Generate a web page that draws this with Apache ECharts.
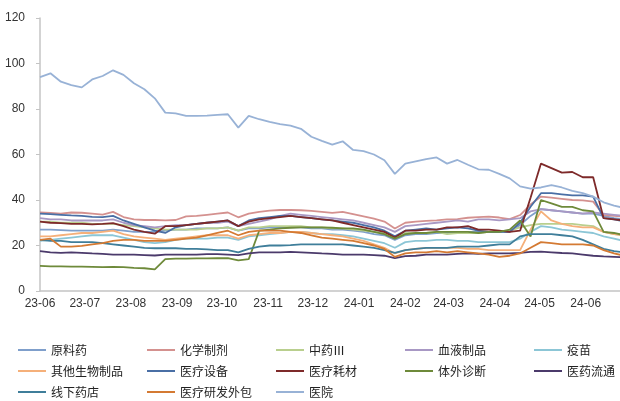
<!DOCTYPE html>
<html>
<head>
<meta charset="utf-8">
<script src="https://cdn.jsdelivr.net/npm/echarts@6/dist/echarts.min.js"></script>
<style>
  html, body { margin: 0; padding: 0; background: #fff; }
  #pe-chart { width: 620px; height: 401px; }
</style>
</head>
<body>
<div id="pe-chart"></div>
<script>
  // weekly dates
  const dates = [
    '2023-06-01', '2023-06-08', '2023-06-15', '2023-06-22', '2023-06-29', '2023-07-06', '2023-07-13', '2023-07-20',
    '2023-07-27', '2023-08-03', '2023-08-10', '2023-08-17', '2023-08-24', '2023-08-31', '2023-09-07', '2023-09-14',
    '2023-09-21', '2023-09-28', '2023-10-05', '2023-10-12', '2023-10-19', '2023-10-26', '2023-11-02', '2023-11-09',
    '2023-11-16', '2023-11-23', '2023-11-30', '2023-12-07', '2023-12-14', '2023-12-21', '2023-12-28', '2024-01-04',
    '2024-01-11', '2024-01-18', '2024-01-25', '2024-02-01', '2024-02-08', '2024-02-15', '2024-02-22', '2024-02-29',
    '2024-03-07', '2024-03-14', '2024-03-21', '2024-03-28', '2024-04-04', '2024-04-11', '2024-04-18', '2024-04-25',
    '2024-05-02', '2024-05-09', '2024-05-16', '2024-05-23', '2024-05-30', '2024-06-06', '2024-06-13', '2024-06-20',
    '2024-06-27'
  ];

  const yuanliaoyao = [27, 27, 26.8, 26.5, 26.5, 26.5, 26.5, 27, 26.5, 26, 26, 26, 26.5, 27, 27, 27.5, 27.5, 27.5, 28, 26.5,
    27.5, 27.5, 28, 28, 28, 28, 27.5, 27.5, 27, 27, 26.5, 26, 25, 24.5, 22.5, 24.5, 25, 25, 25.5, 25.5,
    26, 26, 26, 26, 26, 26, 29, 33, 36, 35.5, 35, 34.5, 34, 34, 33, 32, 31.5];
  const huaxuezhiji = [34.5, 34.3, 34, 34.5, 34.4, 34, 33.6, 34.8, 32.5, 31.5, 31.2, 31.2, 31, 31.2, 32.8, 33, 33.5, 34, 34.5, 32.4,
    34, 34.8, 35.3, 35.6, 35.6, 35.5, 35.2, 34.8, 34.3, 34.8, 33.8, 32.8, 31.8, 30.5, 27.5, 30, 30.5, 30.8, 31, 31.5,
    31.6, 32.2, 32.5, 32.7, 32.3, 31.6, 33.4, 38, 41.5, 41, 40.5, 40, 39.8, 39.3, 33.4, 33, 32.7];
  const zhongyao = [30.5, 30.5, 30, 30, 30, 29.5, 29.5, 29.5, 29, 28.5, 28, 27.5, 27, 27, 27, 27, 27.5, 27.5, 28, 26.5,
    28, 28, 28.5, 28.5, 28.5, 28.5, 28, 28, 27.5, 27.5, 27, 26.5, 26, 25.5, 24, 25.5, 25.5, 25.5, 26, 25,
    25.5, 25.5, 25.5, 26, 26, 26.5, 28, 29, 29.5, 29.5, 29.5, 29.5, 29, 28.5, 26, 25, 24.5];
  const xueye = [32, 31.5, 31.5, 31, 31, 31, 31, 31.5, 30, 29, 28.5, 28, 28.5, 29, 29, 29.5, 30, 30, 30.5, 28.5,
    29.5, 30.5, 31.5, 33, 34, 33.5, 33, 32.5, 32, 31.5, 31, 30, 29, 28, 26, 28.5, 29, 29.5, 30, 30.5,
    31, 30.5, 31.5, 31.5, 31, 31.5, 32, 35, 36, 35.5, 35, 34.5, 34, 34.5, 34, 33.5, 33];
  const yimiao = [22, 22.5, 23, 23.5, 24, 24.5, 24.5, 24.5, 23.5, 22.5, 21.5, 21, 21.5, 22.5, 23, 23, 23, 23.5, 23.5, 22.5,
    24, 24.5, 25, 25.5, 26, 26, 25.5, 25, 25, 24.5, 24, 23, 22, 21, 19, 21.5, 22, 22, 22.5, 22.5,
    22, 22, 21.5, 21.5, 21.5, 21.5, 23, 26, 28.5, 28, 27, 26.5, 26, 25.5, 24, 23, 22];
  const qitashengwu = [24, 24, 24.5, 25, 25.5, 25.5, 26, 26.5, 25, 24, 23.5, 23, 22.5, 23, 23.5, 24, 24.5, 24.5, 24.5, 23,
    24.5, 25, 25.5, 25.5, 26, 26, 25.5, 25, 24.5, 24, 23, 22, 20.5, 19, 16.5, 18, 18.5, 19, 19, 19,
    19, 18.5, 18.5, 18, 18, 18, 18, 27, 35, 31, 29.5, 28.5, 28, 28, 26, 25, 24.5];
  const yiliaoshebei = [34, 33.8, 33.5, 33.2, 33, 32.6, 32.5, 33, 31, 29.5, 28, 26.5, 25.5, 28, 29, 29.5, 30, 30.5, 31, 28.5,
    31, 32, 32.5, 33, 33, 32.5, 32, 31.5, 31, 30.5, 30, 29, 28, 26.5, 24, 26.5, 27, 27.5, 27, 27.5,
    28, 27.5, 26.5, 26, 26, 26, 30, 37, 43, 43, 42.5, 42, 42, 41.5, 32, 31.5, 30.5];
  const yiliaohaocai = [30.5, 30, 29.8, 29.5, 29.5, 29.3, 29.5, 29.8, 28.5, 27, 26, 25.2, 28.5, 28.5, 29, 29.5, 30, 30.5, 31, 28.5,
    30.5, 31.5, 32, 32.5, 33, 32.5, 32, 31.5, 31, 30, 29, 28, 27, 26, 23.5, 26.5, 26.5, 27, 27, 28,
    28, 28.5, 27, 27, 26.5, 26, 26.5, 41, 56, 54, 52, 52.3, 50, 50, 32, 31.5, 31];
  const tiwaizhenduan = [11, 10.8, 10.8, 10.7, 10.7, 10.6, 10.5, 10.6, 10.5, 10.2, 10, 9.5, 14, 14.2, 14.2, 14.3, 14.3, 14.4, 14.4, 13.5,
    14, 26.5, 27, 27.5, 27.8, 28, 28, 28, 27.8, 27.5, 27.5, 27, 26, 25, 23, 25, 25.5, 25.5, 26, 26,
    26, 26, 25.5, 26, 26, 27, 31, 24, 40, 38.5, 37, 37, 35.5, 35, 26, 25.5, 24.5];
  const yiyaoliutong = [17.5, 17, 16.8, 17, 16.8, 16.5, 16.3, 16, 16, 16, 15.8, 15.6, 16, 16, 16, 16, 16.2, 16.2, 16, 15.8,
    16.5, 17, 17, 17, 17.2, 17, 16.8, 16.5, 16.3, 16, 16, 16, 15.8, 15.5, 14.5, 15.3, 15.5, 16, 16, 16,
    16.3, 16.5, 16.3, 16.5, 16.5, 16.5, 16.8, 17.2, 17.3, 17, 16.7, 16.5, 16, 15.5, 15.2, 15, 14.8];
  const xianxiayaodian = [22.5, 22, 22, 21.5, 21.5, 21.5, 21, 20.5, 20, 19.5, 19, 18.8, 18.8, 18.8, 18.5, 18.5, 18.3, 18, 18, 17,
    18.5, 19.5, 20, 20, 20.2, 20.5, 20.5, 20.5, 20.5, 20.5, 20, 19.5, 19, 18, 16.8, 18, 18.5, 19, 19, 19,
    19.5, 19.5, 19.5, 20, 20.5, 20.5, 24, 25, 25, 25, 24.5, 24, 22.5, 20.5, 18.5, 17.5, 17];
  const yanfawaibao = [22.5, 23, 19.5, 19.5, 19.8, 20.5, 21, 22, 22.5, 22.5, 22, 22, 22, 22.5, 23, 23.5, 24.5, 25.5, 26.5, 24.5,
    26, 26.5, 26.5, 26.5, 26, 25.5, 24.5, 23.5, 23, 22.5, 22, 21, 20, 18.5, 15, 16.5, 17, 17, 17.5, 17,
    17.5, 17, 16.5, 16, 15, 15.5, 16.5, 19, 21.5, 21, 20.5, 20.5, 20.5, 20, 18, 16.5, 15.5];
  const yiyuan = [94, 95.7, 92, 90.5, 89.5, 93, 94.5, 97, 95, 91.3, 88.7, 84.7, 78.4, 78.1, 77, 77, 77.1, 77.4, 77.7, 71.8,
    77, 75.5, 74.3, 73.4, 72.7, 71.3, 67.8, 66, 64.3, 65.8, 62, 61.5, 60, 57.5, 51.5, 56, 57, 58, 58.7, 56,
    57.6, 55.5, 53.5, 53.3, 51.5, 49.5, 46, 45, 45.5, 46.5, 45.5, 44, 43, 41.5, 39, 37.5, 36.5];

  const seriesList = [
    { name: '原料药', values: yuanliaoyao, color: '#7f9fcb' },
    { name: '化学制剂', values: huaxuezhiji, color: '#d4918f' },
    { name: '中药Ⅲ', values: zhongyao, color: '#b9cf8e' },
    { name: '血液制品', values: xueye, color: '#a898c4' },
    { name: '疫苗', values: yimiao, color: '#8cc6d6' },
    { name: '其他生物制品', values: qitashengwu, color: '#f5b07a' },
    { name: '医疗设备', values: yiliaoshebei, color: '#4a6fa5' },
    { name: '医疗耗材', values: yiliaohaocai, color: '#7e2a2a' },
    { name: '体外诊断', values: tiwaizhenduan, color: '#6e8a3a' },
    { name: '医药流通', values: yiyaoliutong, color: '#4b3a6b' },
    { name: '线下药店', values: xianxiayaodian, color: '#3f7e9a' },
    { name: '医疗研发外包', values: yanfawaibao, color: '#d47a33' },
    { name: '医院', values: yiyuan, color: '#98b2d6' }
  ];

  const DAY = 24 * 3600 * 1000;
  const AXIS_LABEL = { color: '#333', fontSize: 12, fontFamily: 'Liberation Sans, Arial, sans-serif' };

  let myChart = echarts.init(document.getElementById('pe-chart'));
  let option = {
    animation: false,
    grid: { left: 40, right: 0, top: 18, bottom: 110 },
    legend: {
      left: 13,
      top: 337,
      width: 660,
      icon: 'rect',
      itemWidth: 28,
      itemHeight: 2,
      itemGap: 5,
      textStyle: {
        fontSize: 12,
        color: '#222',
        width: 91,
        lineHeight: 16,
        fontFamily: 'Noto Sans CJK SC'
      },
      data: seriesList.map(s => s.name)
    },
    xAxis: {
      type: 'time',
      min: '2023-06-01',
      max: '2024-06-24',
      minInterval: 28 * DAY,
      maxInterval: 31 * DAY,
      axisLine: { lineStyle: { color: '#c4c4c4', width: 1.5 } },
      axisTick: { show: false },
      splitLine: { show: false },
      axisLabel: { ...AXIS_LABEL, margin: 7, formatter: '{yy}-{MM}', hideOverlap: false }
    },
    yAxis: {
      type: 'value',
      min: 0,
      max: 120,
      interval: 20,
      axisLine: { show: true, lineStyle: { color: '#c4c4c4', width: 1.5 } },
      axisTick: { show: true, length: 4, lineStyle: { color: '#c4c4c4' } },
      splitLine: { show: false },
      axisLabel: { ...AXIS_LABEL, margin: 15 }
    },
    series: seriesList.map(s => ({
      name: s.name,
      type: 'line',
      symbol: 'none',
      color: s.color,
      lineStyle: { width: 1.8, color: s.color },
      data: dates.map((d, i) => [d, s.values[i]])
    }))
  };
  option && myChart.setOption(option);
</script>
</body>
</html>
